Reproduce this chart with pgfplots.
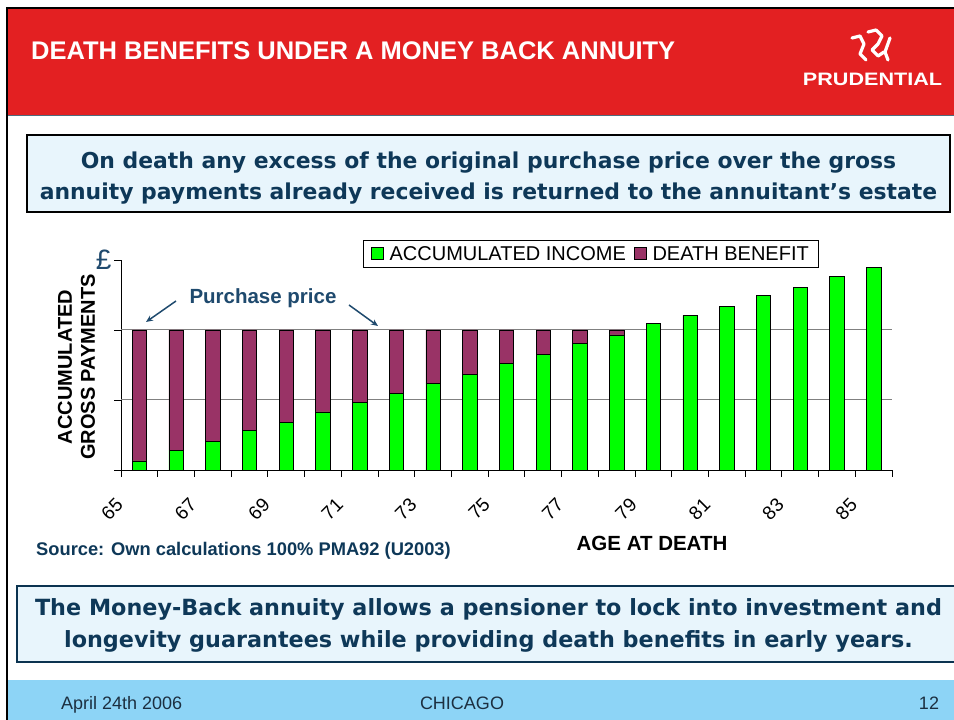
\documentclass[border=0pt]{standalone}
\usepackage{pgfplots}
\pgfplotsset{compat=1.18}
\usepackage{pgfplotstable}
\usepackage{fontspec}
\setmainfont{Liberation Sans}
\newfontfamily\dvs{DejaVu Sans}
\usetikzlibrary{arrows.meta}
\definecolor{hdrred}{HTML}{E32022}
\definecolor{hdrline}{HTML}{4F6B7D}
\definecolor{boxblue}{HTML}{E8F5FC}
\definecolor{navy}{HTML}{0E3858}
\definecolor{boxnavy}{HTML}{0B3350}
\definecolor{footblue}{HTML}{8DD4F6}
\definecolor{foottext}{HTML}{1C2F40}
\definecolor{barpurple}{HTML}{993366}
\definecolor{bargreen}{HTML}{00FF00}
\definecolor{gridgray}{HTML}{808080}
\definecolor{chartblue}{HTML}{1F4A6E}

\pgfplotstableread{
x green death
0 0.13 1.87
1 0.28 1.72
2 0.41 1.59
3 0.56 1.44
4 0.68 1.32
5 0.83 1.17
6 0.96 1.04
7 1.09 0.91
8 1.24 0.76
9 1.37 0.63
10 1.52 0.48
11 1.65 0.35
12 1.81 0.19
13 1.93 0.07
14 2.09 0
15 2.21 0
16 2.34 0
17 2.49 0
18 2.61 0
19 2.77 0
20 2.89 0
}\datatable

\begin{document}
\begin{tikzpicture}[x=1pt,y=1pt]
\useasboundingbox (0,0) rectangle (954,720);
\fill[white] (0,0) rectangle (954,720);
% header
\fill[hdrred] (8,605) rectangle (954,711);
\draw[line width=1pt, hdrline] (8,604.5) -- (954,604.5);
\draw[line width=2pt, black] (7,0) -- (7,712) -- (954,712);
\node[anchor=base west, inner sep=0pt, white, font=\fontsize{25.5}{30}\selectfont\bfseries] at (31,660) {DEATH BENEFITS UNDER A MONEY BACK ANNUITY};
% logo
\node[anchor=base, inner sep=0pt, white, font=\fontsize{18}{20}\selectfont\bfseries] at (872.5,634) {\scalebox{1.2}[1]{PRUDENTIAL}};
\begin{scope}[white, line width=3.2pt, line cap=round, line join=round]
\draw (852,682) -- (860,684) -- (864,676) -- (860,666) -- (866,660);
\draw (868,688) -- (876,690) -- (882,684) -- (878,676) -- (872,670) -- (878,664) -- (884,668);
\draw (890,682) -- (885,668) -- (888,660);
\end{scope}
% box 1
\draw[line width=1.6pt, black, fill=boxblue] (27,508) rectangle (950,585);
\node[anchor=base, inner sep=0pt, navy, font=\dvs\fontsize{21.9}{26}\selectfont\bfseries] at (488.5,551) {On death any excess of the original purchase price over the gross};
\node[anchor=base, inner sep=0pt, navy, font=\dvs\fontsize{21.9}{26}\selectfont\bfseries] at (488.5,520) {annuity payments already received is returned to the annuitant’s estate};
% box 2
\draw[line width=1.8pt, boxnavy, fill=boxblue] (17,58) rectangle (962,134);
\node[anchor=base, inner sep=0pt, navy, font=\dvs\fontsize{22.3}{26}\selectfont\bfseries] at (488.5,104) {The Money-Back annuity allows a pensioner to lock into investment and};
\node[anchor=base, inner sep=0pt, navy, font=\dvs\fontsize{22.3}{26}\selectfont\bfseries] at (488.5,72) {longevity guarantees while providing death benefits in early years.};
% footer
\fill[footblue] (8,0) rectangle (954,40);
\draw[line width=2pt, black] (7,0) -- (7,41);
\node[anchor=base west, inner sep=0pt, foottext, font=\fontsize{18}{20}\selectfont] at (61,10.5) {April 24th 2006};
\node[anchor=base, inner sep=0pt, foottext, font=\fontsize{18}{20}\selectfont] at (462,10.5) {CHICAGO};
\node[anchor=base, inner sep=0pt, foottext, font=\fontsize{18}{20}\selectfont] at (929,10.5) {12};
% chart
\begin{axis}[
  at={(121pt,250pt)}, anchor=south west,
  scale only axis, width=771pt, height=210pt,
  xmin=-0.5, xmax=20.5, ymin=0, ymax=3,
  axis lines*=left,
  axis line style={black, line width=0.8pt},
  ybar stacked, bar width=0.39,
  xtick={-0.5,1.5,...,21.5},
  xticklabels={65,67,69,71,73,75,77,79,81,83,85,87},
  minor x tick num=1,
  xticklabel style={font=\fontsize{19}{22}\selectfont, yshift=-22pt, xshift=1pt, rotate=45, anchor=east},
  ytick={0,1,2,3},
  yticklabels={,,,£},
  yticklabel style={font=\fontsize{28}{30}\selectfont, chartblue, xshift=1pt},
  extra y ticks={1,2},
  extra y tick labels={},
  extra y tick style={grid=major, major tick length=0pt},
  grid style={gridgray, line width=1pt},
  tick align=outside,
  major tick length=7pt,
  minor tick length=7pt,
  tick style={black, line width=0.8pt},
  legend columns=2,
  legend style={at={(0.6095,1.029)}, anchor=center, draw=black, line width=0.8pt, fill=white,
    font=\fontsize{20}{22}\selectfont, inner xsep=8pt, inner ysep=3.5pt,
    /tikz/every even column/.append style={column sep=6pt}},
  legend image code/.code={\draw[#1, line width=0.6pt] (0pt,-5pt) rectangle (12pt,7pt);},
  clip=false,
]
\addplot[fill=bargreen, draw=black, line width=0.6pt] table[x=x, y=green] {\datatable};
\addplot[fill=barpurple, draw=black, line width=0.6pt] table[x=x, y=death] {\datatable};
\legend{\hspace{4pt}ACCUMULATED INCOME, \hspace{4pt}DEATH BENEFIT}
\end{axis}
% chart annotations
\node[rotate=90, align=center, inner sep=0pt, font=\fontsize{20}{23}\selectfont\bfseries] at (76.5,353) {ACCUMULATED\\GROSS PAYMENTS};
\node[inner sep=0pt, chartblue, font=\fontsize{20.5}{24}\selectfont\bfseries] at (263,422) {Purchase price};
\draw[chartblue, line width=1.5pt, -{Stealth[length=7pt,width=6pt]}] (176,419) -- (146,398);
\draw[chartblue, line width=1.5pt, -{Stealth[length=7pt,width=6pt]}] (349,415) -- (378,394);
\node[inner sep=0pt, font=\fontsize{20.5}{23}\selectfont\bfseries] at (652,177) {AGE AT DEATH};
\node[anchor=west, inner sep=0pt, navy, font=\fontsize{18.3}{20}\selectfont\bfseries] at (36,169) {Source: Own calculations 100\% PMA92 (U2003)};
\end{tikzpicture}
\end{document}
